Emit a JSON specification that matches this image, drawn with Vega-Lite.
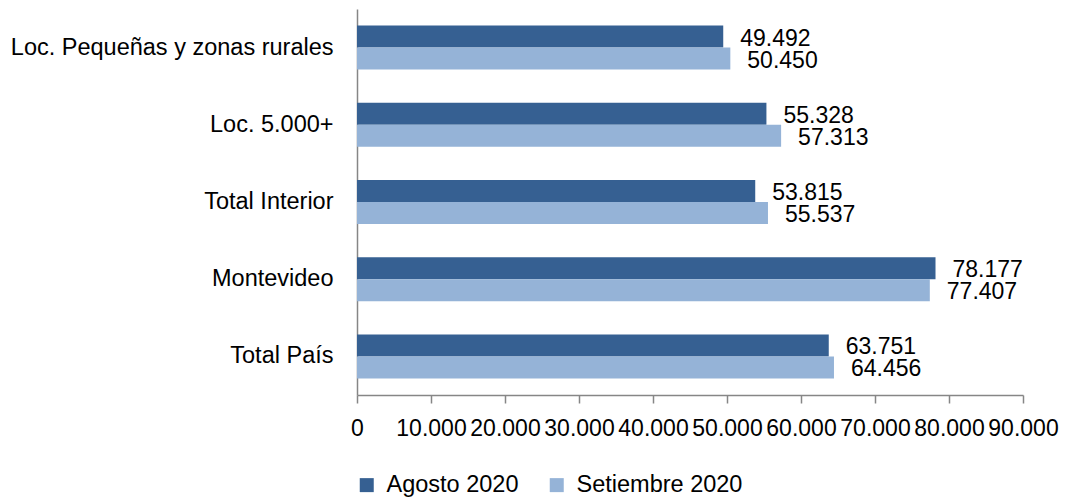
{
  "$schema": "https://vega.github.io/schema/vega-lite/v6.json",
  "width": 666,
  "height": 386,
  "autosize": {"type": "none"},
  "padding": {"left": 357, "top": 9, "right": 42, "bottom": 102},
  "background": "white",
  "config": {
    "view": {"stroke": null},
    "font": "Liberation Sans",
    "text": {"font": "Liberation Sans"},
    "locale": {"number": {"decimal": ",", "thousands": ".", "grouping": [3], "currency": ["$", ""]}}
  },
  "data": {
    "values": [
      {"region": "Loc. Pequeñas y zonas rurales", "serie": "Agosto 2020", "valor": 49492},
      {"region": "Loc. Pequeñas y zonas rurales", "serie": "Setiembre 2020", "valor": 50450},
      {"region": "Loc. 5.000+", "serie": "Agosto 2020", "valor": 55328},
      {"region": "Loc. 5.000+", "serie": "Setiembre 2020", "valor": 57313},
      {"region": "Total Interior", "serie": "Agosto 2020", "valor": 53815},
      {"region": "Total Interior", "serie": "Setiembre 2020", "valor": 55537},
      {"region": "Montevideo", "serie": "Agosto 2020", "valor": 78177},
      {"region": "Montevideo", "serie": "Setiembre 2020", "valor": 77407},
      {"region": "Total País", "serie": "Agosto 2020", "valor": 63751},
      {"region": "Total País", "serie": "Setiembre 2020", "valor": 64456}
    ]
  },
  "encoding": {
    "y": {
      "field": "region",
      "type": "nominal",
      "sort": ["Loc. Pequeñas y zonas rurales", "Loc. 5.000+", "Total Interior", "Montevideo", "Total País"],
      "scale": {"paddingInner": 0.43, "paddingOuter": 0.215},
      "axis": {
        "title": null,
        "domain": true,
        "domainColor": "#868686",
        "domainWidth": 1.5,
        "ticks": false,
        "labelFontSize": 23.5,
        "labelColor": "#000000",
        "labelPadding": 24,
        "labelLimit": 400
      }
    },
    "yOffset": {"field": "serie", "type": "nominal", "sort": ["Agosto 2020", "Setiembre 2020"]},
    "x": {
      "field": "valor",
      "type": "quantitative",
      "scale": {"domain": [0, 90000], "nice": false},
      "axis": {
        "title": null,
        "values": [0, 10000, 20000, 30000, 40000, 50000, 60000, 70000, 80000, 90000],
        "format": ",.0f",
        "grid": false,
        "domainColor": "#868686",
        "domainWidth": 1.5,
        "tickColor": "#868686",
        "tickWidth": 1.5,
        "tickSize": 8,
        "labelFontSize": 23,
        "labelColor": "#000000",
        "labelPadding": 14,
        "labelOverlap": false,
        "labelFlush": false,
        "labelBound": false
      }
    }
  },
  "layer": [
    {
      "mark": {"type": "bar"},
      "encoding": {
        "color": {
          "field": "serie",
          "type": "nominal",
          "scale": {"domain": ["Agosto 2020", "Setiembre 2020"], "range": ["#366092", "#95B3D7"]},
          "legend": {
            "title": null,
            "orient": "none",
            "direction": "horizontal",
            "legendX": -2,
            "legendY": 464,
            "symbolType": "square",
            "symbolSize": 196,
            "symbolStrokeWidth": 0,
            "labelFontSize": 23.5,
            "labelColor": "#000000",
            "labelOffset": 8,
            "labelLimit": 300,
            "columnPadding": 26
          }
        }
      }
    },
    {
      "mark": {"type": "text", "align": "left", "baseline": "middle", "dx": 17, "dy": 2, "fontSize": 23, "color": "#000000"},
      "encoding": {
        "text": {"field": "valor", "type": "quantitative", "format": ",.0f"}
      }
    }
  ]
}
